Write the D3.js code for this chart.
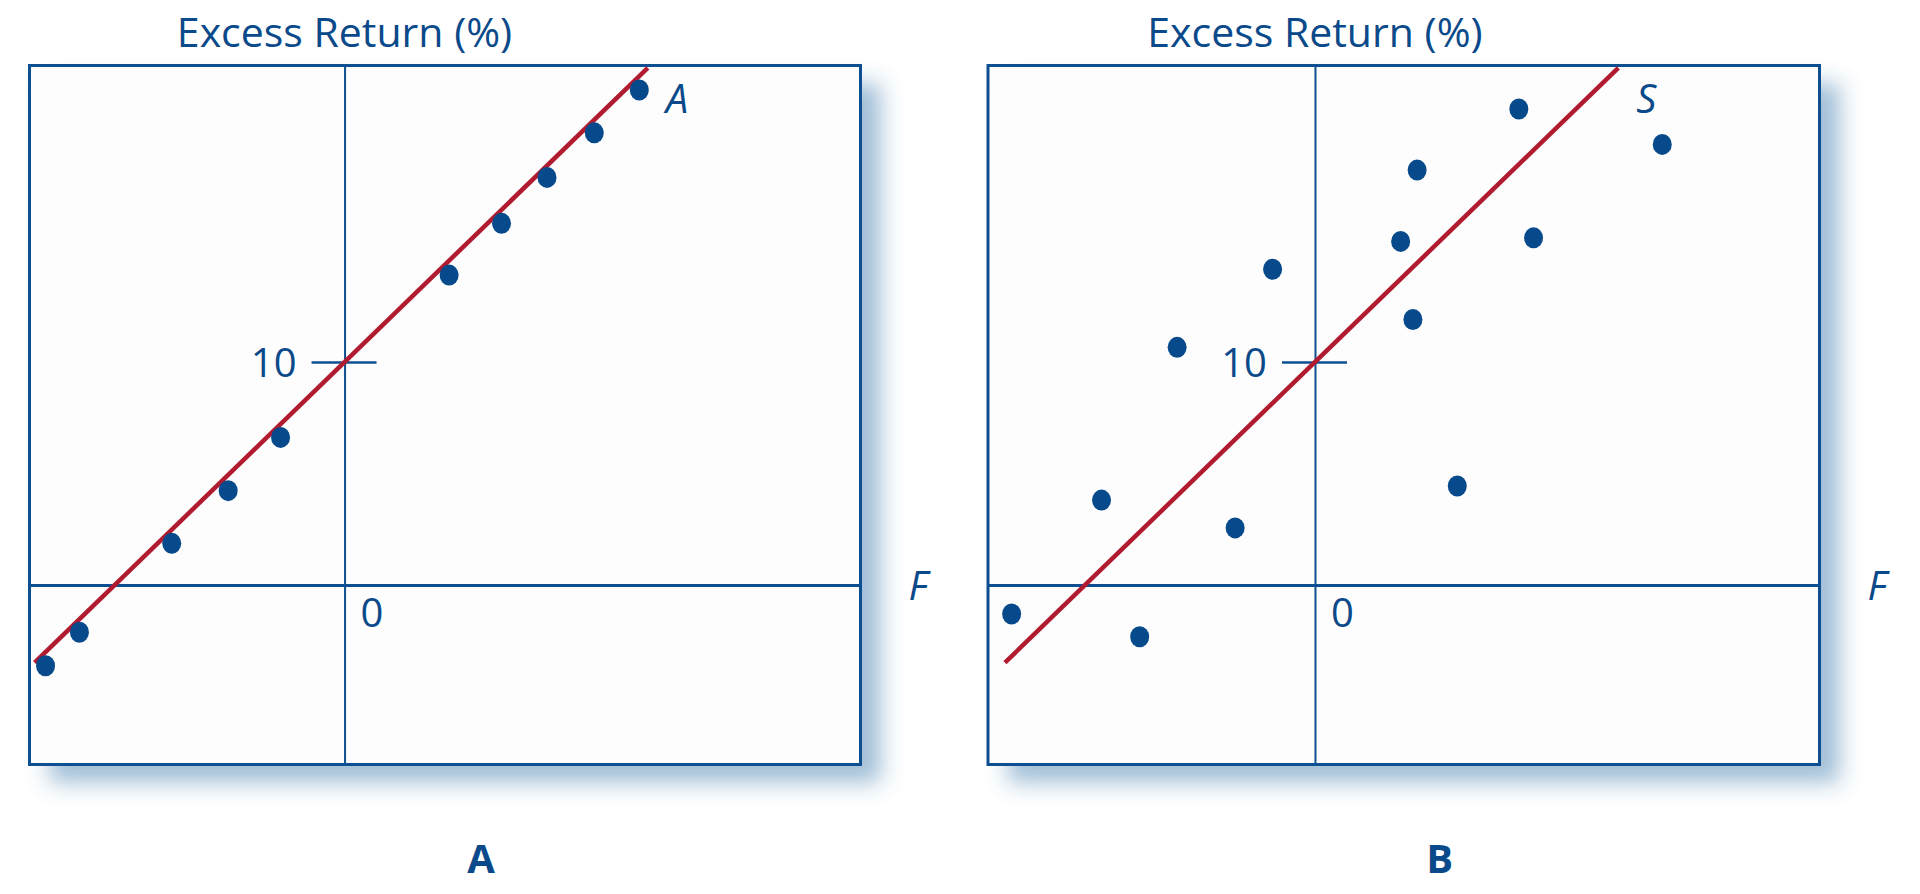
<!DOCTYPE html>
<html>
<head>
<meta charset="utf-8">
<script src="https://cdn.jsdelivr.net/npm/d3@7"></script>
<style>
  body { margin: 0; background: #fff; }
  svg text { font-family: "Open Sans", sans-serif; fill: #0b4a8a; }
</style>
</head>
<body>
<script>
// values (F = market excess return, R = stock excess return, %)
const panelNames = ["A", "B"];
const lineNames = ["A", "S"];
const yAxisTitle = "Excess Return (%)";
const xAxisTitle = "F";
const yTicks = [10];
const zeroLabel = "0";

const stockA_F = [-13.41, -11.89, -7.75, -5.22, -2.87, 4.69, 7.04, 9.08, 11.20, 13.22];
const stockA_R = [-3.62, -2.12, 1.87, 4.23, 6.62, 13.90, 16.22, 18.28, 20.28, 22.20];

const stockS_F = [9.14, 15.57, 4.58, 3.84, 9.80, -1.90, 4.39, -6.18, -9.57, -3.58, 6.38, -13.60, -7.86];
const stockS_R = [21.35, 19.76, 18.61, 15.41, 15.57, 14.16, 11.91, 10.66, 3.81, 2.56, 4.44, -1.30, -2.32];

// regression lines  R = alpha + beta * F
const alphas = [10, 10];
const betas = [0.97, 0.97];
const lineFrom = [-13.9, -13.9];
const lineTo = [13.6, 13.6];

const xDomains = [[-14.13, 23.14], [-14.66, 22.62]];
const yDomain = [-8.05, 23.3];

const W = 1920, H = 894;
const blue = "#0d4f91", red = "#b01b30", dot = "#064a8c";

const svg = d3.select("body").append("svg")
  .attr("width", W).attr("height", H);

const defs = svg.append("defs");
const f = defs.append("filter").attr("id", "shadow")
  .attr("x", "-10%").attr("y", "-10%").attr("width", "130%").attr("height", "130%");
f.append("feDropShadow")
  .attr("dx", 20).attr("dy", 18).attr("stdDeviation", 11)
  .attr("flood-color", "#2f6ea5").attr("flood-opacity", 0.45);

const panels = [
  { left: 29.5, right: 860.5, F: stockA_F, R: stockA_R },
  { left: 988, right: 1819.5, F: stockS_F, R: stockS_R }
];
const boxTop = 65.5, boxBottom = 764.5;

panels.forEach((p, i) => {
  const x = d3.scaleLinear().domain(xDomains[i]).range([p.left, p.right]);
  const y = d3.scaleLinear().domain(yDomain).range([boxBottom, boxTop]);
  const g = svg.append("g");

  // box with shadow
  g.append("rect")
    .attr("x", p.left).attr("y", boxTop)
    .attr("width", p.right - p.left).attr("height", boxBottom - boxTop)
    .attr("fill", "#fdfdfd")
    .attr("filter", "url(#shadow)");

  // horizontal F axis
  const xAxis = g.append("g")
    .attr("transform", "translate(0," + y(0) + ")")
    .call(d3.axisBottom(x).tickValues([]).tickSizeOuter(0));
  xAxis.select(".domain").attr("stroke", blue).attr("stroke-width", 3);

  // vertical axis with the 10 tick
  const yAxis = g.append("g")
    .attr("transform", "translate(" + x(0) + ",0)")
    .call(d3.axisLeft(y).tickValues(yTicks).tickSize(33).tickSizeOuter(0).tickPadding(15));
  yAxis.select(".domain").attr("stroke", blue).attr("stroke-width", 2);
  yAxis.selectAll(".tick line").attr("stroke", blue).attr("stroke-width", 2.5).attr("x2", 32).attr("x1", -33);
  yAxis.selectAll(".tick text")
    .attr("font-size", 40).attr("font-family", "Open Sans, sans-serif")
    .attr("fill", blue).attr("dy", "0.36em");

  // box border
  g.append("rect")
    .attr("x", p.left).attr("y", boxTop)
    .attr("width", p.right - p.left).attr("height", boxBottom - boxTop)
    .attr("fill", "none").attr("stroke", blue).attr("stroke-width", 3);

  // regression line
  const line = d3.line().x(d => x(d)).y(d => y(alphas[i] + betas[i] * d));
  g.append("path")
    .datum([lineFrom[i], lineTo[i]])
    .attr("d", line)
    .attr("fill", "none").attr("stroke", red).attr("stroke-width", 4.5);

  // points
  g.selectAll(".pt")
    .data(d3.range(p.F.length))
    .enter().append("ellipse")
    .attr("cx", k => x(p.F[k]))
    .attr("cy", k => y(p.R[k]))
    .attr("rx", 9.5).attr("ry", 10.5)
    .attr("fill", dot);

  // labels
  g.append("text")
    .attr("x", x(0)).attr("y", 47)
    .attr("text-anchor", "middle").attr("font-size", 41)
    .text(yAxisTitle);

  g.append("text")
    .attr("x", x(0) + 16).attr("y", y(0) + 42)
    .attr("font-size", 40)
    .text(zeroLabel);

  g.append("text")
    .attr("x", p.right + 48).attr("y", y(0) + 15)
    .attr("font-size", 40).attr("font-style", "italic")
    .text(xAxisTitle);

  const endY = alphas[i] + betas[i] * lineTo[i];
  g.append("text")
    .attr("x", x(lineTo[i]) + 18).attr("y", y(endY) + 45)
    .attr("font-size", 40).attr("font-style", "italic")
    .text(lineNames[i]);

  g.append("text")
    .attr("x", (p.left + p.right) / 2 + 36).attr("y", 873)
    .attr("text-anchor", "middle").attr("font-size", 40).attr("font-weight", 700)
    .text(panelNames[i]);
});
</script>
</body>
</html>
